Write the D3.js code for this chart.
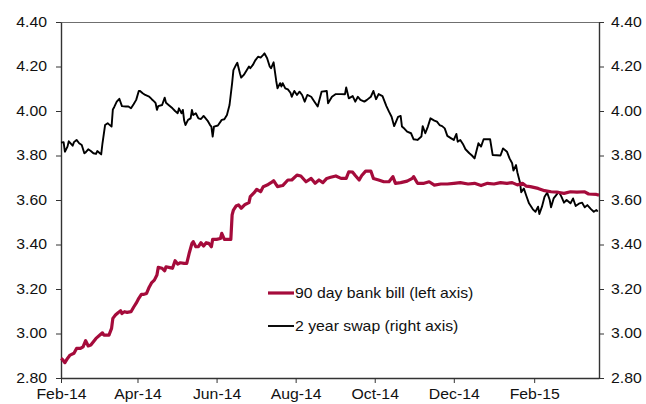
<!DOCTYPE html>
<html>
<head>
<meta charset="utf-8">
<script src="https://cdn.jsdelivr.net/npm/d3@7"></script>
<style>
  body { margin: 0; background: #fff; }
  svg { display: block; font-family: "Liberation Sans", Arial, sans-serif; }
</style>
</head>
<body>
<script>
// 90 day bank bill (left axis)
const billSeries = [
  ["2014-02-01", 2.888], ["2014-02-02", 2.884], ["2014-02-04", 2.869], ["2014-02-06", 2.888],
  ["2014-02-08", 2.903], ["2014-02-11", 2.911], ["2014-02-13", 2.933], ["2014-02-16", 2.933],
  ["2014-02-18", 2.940], ["2014-02-20", 2.968], ["2014-02-22", 2.944], ["2014-02-24", 2.948],
  ["2014-02-26", 2.963], ["2014-02-28", 2.978], ["2014-03-03", 2.993], ["2014-03-05", 3.003],
  ["2014-03-06", 2.993], ["2014-03-10", 2.993], ["2014-03-12", 3.023], ["2014-03-13", 3.068],
  ["2014-03-15", 3.083], ["2014-03-17", 3.093], ["2014-03-19", 3.102], ["2014-03-20", 3.090],
  ["2014-03-22", 3.098], ["2014-03-24", 3.095], ["2014-03-27", 3.098], ["2014-03-29", 3.118],
  ["2014-03-31", 3.136], ["2014-04-02", 3.158], ["2014-04-04", 3.176], ["2014-04-06", 3.176],
  ["2014-04-08", 3.180], ["2014-04-10", 3.208], ["2014-04-12", 3.229], ["2014-04-14", 3.240],
  ["2014-04-16", 3.263], ["2014-04-17", 3.297], ["2014-04-20", 3.293], ["2014-04-22", 3.282],
  ["2014-04-23", 3.300], ["2014-04-26", 3.296], ["2014-04-28", 3.293], ["2014-04-30", 3.327],
  ["2014-05-02", 3.312], ["2014-05-04", 3.318], ["2014-05-07", 3.315], ["2014-05-09", 3.315],
  ["2014-05-11", 3.363], ["2014-05-13", 3.405], ["2014-05-14", 3.413], ["2014-05-16", 3.390],
  ["2014-05-18", 3.390], ["2014-05-20", 3.408], ["2014-05-22", 3.393], ["2014-05-24", 3.408],
  ["2014-05-26", 3.405], ["2014-05-28", 3.390], ["2014-05-29", 3.423], ["2014-06-01", 3.423],
  ["2014-06-04", 3.427], ["2014-06-05", 3.450], ["2014-06-07", 3.423], ["2014-06-12", 3.423],
  ["2014-06-13", 3.533], ["2014-06-14", 3.555], ["2014-06-16", 3.573], ["2014-06-18", 3.578],
  ["2014-06-20", 3.563], ["2014-06-23", 3.580], ["2014-06-26", 3.588], ["2014-06-27", 3.615],
  ["2014-06-30", 3.633], ["2014-07-02", 3.648], ["2014-07-05", 3.637], ["2014-07-07", 3.660],
  ["2014-07-10", 3.667], ["2014-07-13", 3.678], ["2014-07-15", 3.687], ["2014-07-18", 3.660],
  ["2014-07-22", 3.665], ["2014-07-26", 3.690], ["2014-07-29", 3.690], ["2014-08-02", 3.712],
  ["2014-08-05", 3.708], ["2014-08-09", 3.682], ["2014-08-13", 3.697], ["2014-08-16", 3.675],
  ["2014-08-19", 3.690], ["2014-08-22", 3.678], ["2014-08-25", 3.697], ["2014-08-28", 3.702],
  ["2014-09-01", 3.708], ["2014-09-05", 3.697], ["2014-09-09", 3.697], ["2014-09-11", 3.727],
  ["2014-09-14", 3.725], ["2014-09-16", 3.710], ["2014-09-19", 3.690], ["2014-09-21", 3.710],
  ["2014-09-24", 3.730], ["2014-09-28", 3.730], ["2014-09-30", 3.697], ["2014-10-04", 3.690],
  ["2014-10-08", 3.682], ["2014-10-12", 3.682], ["2014-10-15", 3.705], ["2014-10-17", 3.675],
  ["2014-10-21", 3.678], ["2014-10-26", 3.685], ["2014-10-30", 3.697], ["2014-10-31", 3.705],
  ["2014-11-03", 3.675], ["2014-11-08", 3.675], ["2014-11-12", 3.682], ["2014-11-16", 3.667],
  ["2014-11-21", 3.672], ["2014-11-26", 3.672], ["2014-12-01", 3.675], ["2014-12-06", 3.678],
  ["2014-12-12", 3.672], ["2014-12-17", 3.675], ["2014-12-22", 3.665], ["2014-12-27", 3.675],
  ["2015-01-01", 3.672], ["2015-01-06", 3.678], ["2015-01-11", 3.675], ["2015-01-15", 3.678],
  ["2015-01-19", 3.668], ["2015-01-23", 3.675], ["2015-01-26", 3.662], ["2015-01-29", 3.660],
  ["2015-02-04", 3.652], ["2015-02-09", 3.642], ["2015-02-14", 3.637], ["2015-02-19", 3.635],
  ["2015-02-24", 3.630], ["2015-03-01", 3.637], ["2015-03-06", 3.635], ["2015-03-12", 3.637],
  ["2015-03-15", 3.627], ["2015-03-21", 3.625], ["2015-03-23", 3.622]
];

// 2 year swap (right axis)
const swapSeries = [
  ["2014-02-01", 3.858], ["2014-02-03", 3.860], ["2014-02-04", 3.817], ["2014-02-06", 3.840],
  ["2014-02-07", 3.864], ["2014-02-10", 3.844], ["2014-02-11", 3.860], ["2014-02-13", 3.870],
  ["2014-02-15", 3.855], ["2014-02-17", 3.847], ["2014-02-19", 3.810], ["2014-02-20", 3.814],
  ["2014-02-22", 3.828], ["2014-02-24", 3.820], ["2014-02-26", 3.810], ["2014-02-28", 3.807],
  ["2014-03-01", 3.820], ["2014-03-03", 3.810], ["2014-03-04", 3.805], ["2014-03-05", 3.855],
  ["2014-03-07", 3.937], ["2014-03-09", 3.945], ["2014-03-10", 3.940], ["2014-03-12", 3.930],
  ["2014-03-13", 4.007], ["2014-03-14", 4.017], ["2014-03-16", 4.042], ["2014-03-18", 4.055],
  ["2014-03-20", 4.022], ["2014-03-23", 4.020], ["2014-03-25", 4.020], ["2014-03-27", 4.012],
  ["2014-03-29", 4.030], ["2014-03-31", 4.050], ["2014-04-02", 4.090], ["2014-04-03", 4.090],
  ["2014-04-05", 4.080], ["2014-04-07", 4.072], ["2014-04-10", 4.065], ["2014-04-12", 4.053],
  ["2014-04-14", 4.042], ["2014-04-15", 4.035], ["2014-04-16", 4.005], ["2014-04-17", 4.022],
  ["2014-04-20", 4.027], ["2014-04-22", 4.060], ["2014-04-23", 4.037], ["2014-04-25", 4.027],
  ["2014-04-28", 4.012], ["2014-04-30", 4.000], ["2014-05-02", 3.990], ["2014-05-03", 4.012],
  ["2014-05-05", 3.990], ["2014-05-06", 4.005], ["2014-05-07", 3.957], ["2014-05-08", 3.937],
  ["2014-05-10", 3.960], ["2014-05-12", 3.967], ["2014-05-13", 4.005], ["2014-05-14", 3.982],
  ["2014-05-16", 3.990], ["2014-05-18", 3.967], ["2014-05-20", 3.964], ["2014-05-22", 3.978],
  ["2014-05-25", 3.957], ["2014-05-27", 3.937], ["2014-05-28", 3.930], ["2014-05-29", 3.885],
  ["2014-05-30", 3.930], ["2014-06-02", 3.935], ["2014-06-05", 3.960], ["2014-06-07", 3.963],
  ["2014-06-09", 3.982], ["2014-06-11", 4.027], ["2014-06-13", 4.125], ["2014-06-14", 4.184],
  ["2014-06-16", 4.207], ["2014-06-17", 4.217], ["2014-06-19", 4.170], ["2014-06-20", 4.150],
  ["2014-06-22", 4.162], ["2014-06-24", 4.181], ["2014-06-26", 4.200], ["2014-06-27", 4.192],
  ["2014-06-29", 4.207], ["2014-07-01", 4.229], ["2014-07-03", 4.244], ["2014-07-05", 4.240],
  ["2014-07-07", 4.252], ["2014-07-08", 4.259], ["2014-07-10", 4.237], ["2014-07-12", 4.200],
  ["2014-07-13", 4.192], ["2014-07-15", 4.219], ["2014-07-17", 4.136], ["2014-07-18", 4.102],
  ["2014-07-20", 4.125], ["2014-07-21", 4.110], ["2014-07-22", 4.125], ["2014-07-24", 4.102],
  ["2014-07-26", 4.097], ["2014-07-28", 4.082], ["2014-07-29", 4.064], ["2014-07-31", 4.090],
  ["2014-08-02", 4.072], ["2014-08-04", 4.087], ["2014-08-06", 4.072], ["2014-08-08", 4.042],
  ["2014-08-10", 4.072], ["2014-08-13", 4.064], ["2014-08-15", 4.046], ["2014-08-18", 4.020],
  ["2014-08-21", 4.087], ["2014-08-25", 4.090], ["2014-08-26", 4.035], ["2014-08-29", 4.064],
  ["2014-09-01", 4.076], ["2014-09-05", 4.076], ["2014-09-08", 4.075], ["2014-09-09", 4.106],
  ["2014-09-11", 4.057], ["2014-09-14", 4.067], ["2014-09-16", 4.042], ["2014-09-18", 4.064],
  ["2014-09-20", 4.050], ["2014-09-23", 4.042], ["2014-09-25", 4.050], ["2014-09-28", 4.064],
  ["2014-09-30", 4.090], ["2014-10-02", 4.053], ["2014-10-04", 4.076], ["2014-10-07", 4.067],
  ["2014-10-10", 4.022], ["2014-10-12", 3.997], ["2014-10-14", 3.974], ["2014-10-16", 3.932],
  ["2014-10-19", 3.974], ["2014-10-21", 3.978], ["2014-10-22", 3.930], ["2014-10-24", 3.920],
  ["2014-10-26", 3.907], ["2014-10-29", 3.900], ["2014-10-31", 3.873], ["2014-11-03", 3.870],
  ["2014-11-06", 3.885], ["2014-11-07", 3.932], ["2014-11-09", 3.900], ["2014-11-11", 3.930],
  ["2014-11-13", 3.967], ["2014-11-16", 3.957], ["2014-11-18", 3.952], ["2014-11-20", 3.937],
  ["2014-11-22", 3.932], ["2014-11-24", 3.922], ["2014-11-26", 3.888], ["2014-11-29", 3.877],
  ["2014-12-01", 3.870], ["2014-12-03", 3.897], ["2014-12-04", 3.862], ["2014-12-06", 3.870],
  ["2014-12-08", 3.852], ["2014-12-10", 3.828], ["2014-12-13", 3.810], ["2014-12-15", 3.800],
  ["2014-12-17", 3.787], ["2014-12-20", 3.855], ["2014-12-22", 3.840], ["2014-12-24", 3.873],
  ["2014-12-29", 3.873], ["2014-12-31", 3.802], ["2015-01-06", 3.800], ["2015-01-08", 3.832],
  ["2015-01-11", 3.817], ["2015-01-13", 3.787], ["2015-01-15", 3.765], ["2015-01-16", 3.732],
  ["2015-01-18", 3.757], ["2015-01-19", 3.725], ["2015-01-21", 3.680], ["2015-01-22", 3.635],
  ["2015-01-24", 3.652], ["2015-01-26", 3.618], ["2015-01-28", 3.585], ["2015-01-31", 3.558],
  ["2015-02-02", 3.547], ["2015-02-04", 3.570], ["2015-02-05", 3.537], ["2015-02-07", 3.570],
  ["2015-02-09", 3.615], ["2015-02-11", 3.633], ["2015-02-13", 3.600], ["2015-02-14", 3.567],
  ["2015-02-16", 3.607], ["2015-02-18", 3.622], ["2015-02-20", 3.637], ["2015-02-22", 3.615],
  ["2015-02-24", 3.588], ["2015-02-26", 3.600], ["2015-03-01", 3.585], ["2015-03-03", 3.607],
  ["2015-03-05", 3.573], ["2015-03-08", 3.585], ["2015-03-10", 3.588], ["2015-03-12", 3.567],
  ["2015-03-14", 3.577], ["2015-03-17", 3.558], ["2015-03-19", 3.547], ["2015-03-21", 3.555],
  ["2015-03-22", 3.548]
];

const xDomain = ["2014-02-01", "2015-03-23"];
const xTicks = ["2014-02-01", "2014-04-01", "2014-06-01", "2014-08-01", "2014-10-01", "2014-12-01", "2015-02-01"];
const yTicks = [2.8, 3.0, 3.2, 3.4, 3.6, 3.8, 4.0, 4.2, 4.4];
const legendLabels = ["90 day bank bill (left axis)", "2 year swap (right axis)"];

const width = 646, height = 404;
const margin = { top: 22, right: 47, bottom: 26, left: 61 };
const billColor = "#a50b3b";
const swapColor = "#000000";
const stretchX = 1.13; // the source text looks horizontally widened

const parse = d3.timeParse("%Y-%m-%d");
const bill = billSeries.map((d) => ({ date: parse(d[0]), value: d[1] }));
const swap = swapSeries.map((d) => ({ date: parse(d[0]), value: d[1] }));

const svg = d3.select("body").append("svg")
  .attr("width", width)
  .attr("height", height);

const x = d3.scaleTime()
  .domain(xDomain.map(parse))
  .range([margin.left, width - margin.right]);
const yLeft = d3.scaleLinear()
  .domain([2.8, 4.4])
  .range([height - margin.bottom, margin.top]);
const yRight = d3.scaleLinear()
  .domain([2.8, 4.4])
  .range([height - margin.bottom, margin.top]);

// widen text horizontally around its anchor
function widen(sel) {
  sel.each(function () {
    const t = d3.select(this);
    const tx = +t.attr("x") || 0;
    t.attr("x", tx / stretchX).attr("transform", `scale(${stretchX},1)`);
  });
}

// top border of the plot
svg.append("line")
  .attr("x1", margin.left).attr("x2", width - margin.right)
  .attr("y1", margin.top + 0.5).attr("y2", margin.top + 0.5)
  .attr("stroke", "#6f6f6f").attr("stroke-width", 1);

// axes
const fmtY = d3.format(".2f");
const gx = svg.append("g")
  .attr("transform", `translate(0,${height - margin.bottom})`)
  .call(d3.axisBottom(x).tickValues(xTicks.map(parse)).tickFormat(d3.timeFormat("%b-%y"))
    .tickSize(5).tickSizeOuter(0).tickPadding(6));
const gl = svg.append("g")
  .attr("transform", `translate(${margin.left},0)`)
  .call(d3.axisLeft(yLeft).tickValues(yTicks).tickFormat(fmtY).tickSize(5).tickSizeOuter(0).tickPadding(9));
const gr = svg.append("g")
  .attr("transform", `translate(${width - margin.right},0)`)
  .call(d3.axisRight(yRight).tickValues(yTicks).tickFormat(fmtY).tickSize(5).tickSizeOuter(0).tickPadding(7));

[gx, gl, gr].forEach((g) => {
  g.select(".domain").attr("stroke", "#333").attr("stroke-width", 1.4);
  g.selectAll(".tick line").attr("stroke", "#333");
  g.selectAll(".tick text").attr("fill", "#111").style("font-size", "14px").call(widen);
});

// lines
const lineL = d3.line().x((d) => x(d.date)).y((d) => yLeft(d.value));
const lineR = d3.line().x((d) => x(d.date)).y((d) => yRight(d.value));

svg.append("path")
  .datum(swap)
  .attr("fill", "none")
  .attr("stroke", swapColor)
  .attr("stroke-width", 1.9)
  .attr("stroke-linejoin", "round")
  .attr("d", lineR);

svg.append("path")
  .datum(bill)
  .attr("fill", "none")
  .attr("stroke", billColor)
  .attr("stroke-width", 3.2)
  .attr("stroke-linejoin", "round")
  .attr("d", lineL);

// legend
const legend = svg.append("g").attr("transform", "translate(268,293)");
const legendColors = [billColor, swapColor];
const legendWidths = [3.2, 1.9];
legendLabels.forEach((label, i) => {
  const row = legend.append("g").attr("transform", `translate(0,${i * 33})`);
  row.append("line")
    .attr("x1", 0).attr("x2", 26)
    .attr("stroke", legendColors[i])
    .attr("stroke-width", legendWidths[i]);
  row.append("text")
    .attr("x", 27)
    .attr("y", 5)
    .style("font-size", "14px")
    .attr("fill", "#111")
    .text(label)
    .call(widen);
});
</script>
</body>
</html>
